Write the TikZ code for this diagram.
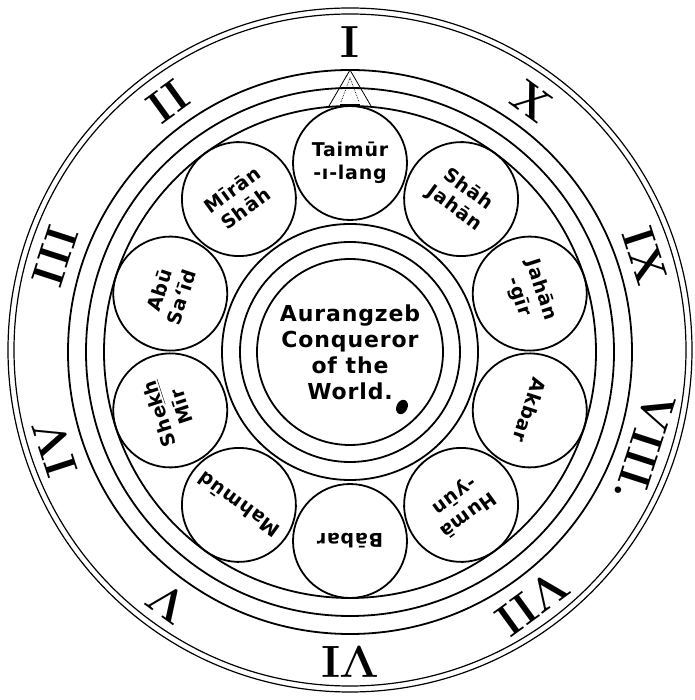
\documentclass[tikz,border=0pt]{standalone}
\usepackage{fontspec}
\setsansfont{DejaVu Sans}[LetterSpace=4]
\usetikzlibrary{shapes,positioning}

\begin{document}
\begin{tikzpicture}[x=1pt,y=1pt,
    ring/.style={line width=1.8pt},
    rim/.style={line width=1.2pt},
    ruler/.style={circle, draw, line width=1.8pt, minimum size=114pt, inner sep=0pt,
      align=center, font=\sffamily\bfseries\fontsize{19}{23}\selectfont},
    numeral/.style={inner sep=0pt, font=\fontsize{45}{45}\selectfont\bfseries}]
  \useasboundingbox (-350,-348) rectangle (344,352);

  % outer rim of the dial
  \draw[rim] (0,2) circle (342);
  \draw[rim] (0,2) circle (336);

  % hours, counted the other way round
  \foreach \n [count=\k] in {I,II,III,IV,V,VI,VII,VIII.,IX,X}
    \node[numeral, rotate=36*(\k-1)] (h\k) at ({90+36*(\k-1)}:310) {\n};

  % rings
  \draw[ring] (0,0) circle (282);
  \draw[ring] (0,0) circle (264);
  \draw[ring] (0,0) circle (246);

  % the pointer
  \coordinate (tip) at (0,282);
  \coordinate (bl) at (-21,246);
  \coordinate (br) at (21,246);
  \draw[line width=0.8pt] (bl) -- (tip) -- (br);
  \draw[line width=0.7pt, densely dotted] (-9,250) -- (0,274) -- (9,250);
  \draw[line width=3pt] (-10,246) -- (10,246);

  % the ten rulers
  \foreach \who/\a [count=\i] in {{Taimūr\\-ı-lang}/90, {Shāh\\Jahān}/54,
      {Jahān\\-gīr}/18, Akbar/-18, {Humā\\-yūn}/-54, Bābar/-90, Mahmūd/-126,
      {She\underline{kh}\\Mīr}/-162, {Abū\\Sa‘īd}/162, {Mīrān\\Shāh}/126}
    \node[ruler, rotate=\a-90] (r\i) at (\a:189) {\who};

  % centre
  \draw[ring] (0,0) circle (128);
  \draw[ring] (0,0) circle (110);
  \node[circle, draw, line width=1.8pt, minimum size=186pt, inner sep=0pt, align=center,
    font=\sffamily\bfseries\fontsize{22}{26}\selectfont] (world) at (0,0)
    {Aurangzeb\\Conqueror\\of the\\World.};
  \fill[rotate around={-25:(52,-55)}] (52,-55) ellipse (5.5 and 7.5);
\end{tikzpicture}
\end{document}
